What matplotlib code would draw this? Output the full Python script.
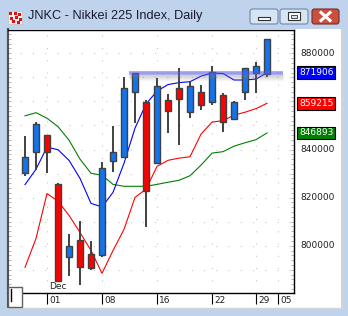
import matplotlib
matplotlib.use("Agg")
import matplotlib.pyplot as plt
from matplotlib.patches import Rectangle, FancyBboxPatch
from matplotlib.transforms import offset_copy

# ---- data ----
dates = ["Nov27", "Nov28", "Dec01", "Dec02", "Dec03", "Dec04", "Dec05", "Dec08",
         "Dec09", "Dec10", "Dec11", "Dec12", "Dec16", "Dec17", "Dec18", "Dec19",
         "Dec20", "Dec22", "Dec24", "Dec25", "Dec26", "Dec29", "Dec30"]
opens = [830400, 839000, 846000, 825800, 795300, 802200, 796700, 796000,
         835300, 836900, 863800, 859700, 834200, 860500, 865400, 855700,
         863900, 859600, 862600, 852500, 863800, 871900, 871400]
highs = [845500, 851400, 846200, 826000, 804700, 810100, 801800, 834800,
         849700, 870000, 872000, 860500, 869600, 863000, 874000, 868500,
         866800, 874800, 863300, 860000, 874000, 876300, 886000]
lows = [829000, 831400, 830100, 785200, 787600, 783500, 790000, 795300,
        830700, 836500, 851100, 807800, 833900, 846700, 841800, 852900,
        856600, 858500, 847100, 852300, 860500, 863300, 870000]
closes = [836700, 850800, 839000, 785300, 799700, 791100, 790700, 832100,
          838800, 865400, 871700, 822800, 866300, 856100, 860800, 866300,
          858300, 872100, 851300, 859700, 873800, 874700, 885800]

band_mid = [825400, 831800, 841000, 839900, 835500, 828000, 817600, 816100,
            822200, 834300, 848900, 858900, 864300, 867000, 867800, 868200,
            870500, 871800, 871600, 868900, 868900, 869300, 871906]
band_red = [791000, 803000, 821700, 818500, 812600, 805500, 798000, 788500,
            798000, 806800, 820100, 823500, 833000, 835500, 836400, 837000,
            846400, 851400, 852000, 854300, 855500, 857000, 859215]
band_green = [854000, 855300, 853000, 849500, 843900, 836000, 830100, 829300,
              825500, 824700, 824700, 824700, 825500, 826400, 827200, 829100,
              833500, 838500, 839100, 841400, 842800, 844100, 846893]

tick_idx = [2, 7, 12, 17, 21, 23]
tick_labels = ["01", "08", "16", "22", "29", "05"]
price_labels = [880000, 840000, 820000, 800000]
hline_level = 871700
hline_from, hline_to = 9.45, 23.45

title = "JNKC - Nikkei 225 Index, Daily"

up_color = "#1274ec"
down_color = "#ff0000"

fig = plt.figure(figsize=(3.48, 3.16), dpi=100)
fig.patch.set_facecolor("#bfd4ec")

# window chrome (pixel coordinates)
bg = fig.add_axes([0, 0, 1, 1])
bg.set_xlim(0, 348)
bg.set_ylim(316, 0)
bg.axis("off")
bg.add_patch(Rectangle((7, 29), 334, 279, facecolor="white", edgecolor="none"))
bg.plot([7.5, 7.5], [29, 308], color="#505050", lw=1.5)
bg.plot([7, 341], [307.5, 307.5], color="#d4d4d4", lw=1)
bg.plot([341.5, 341.5], [29, 308], color="#d4d4d4", lw=1)

# icon
bg.add_patch(Rectangle((8, 11), 14, 13, facecolor="#f0f0f0", edgecolor="#c0c0c0", lw=0.5))
for (px, py) in [(9, 12), (14, 12), (18, 13), (10, 17), (15, 16), (19, 18), (12, 20), (17, 21)]:
    bg.add_patch(Rectangle((px, py), 3, 3, facecolor="#e01010", edgecolor="none"))
bg.text(28, 16.5, title, fontsize=9.2, family="Liberation Sans", color="#1a1a2e",
        va="center", ha="left")

# title buttons
for x0, x1, fc, ec in [(250, 278, "#d7e4f3", "#6d87aa"), (280, 308, "#d7e4f3", "#6d87aa"),
                       (312, 339, "#c9503f", "#7a2b22")]:
    bg.add_patch(FancyBboxPatch((x0, 9), x1 - x0, 15, boxstyle="round,pad=0,rounding_size=2.5",
                                facecolor=fc, edgecolor=ec, lw=0.8))
bg.add_patch(Rectangle((258, 17), 12, 3, facecolor="white", edgecolor="#303030", lw=0.8))
bg.add_patch(Rectangle((288, 12), 12, 8, facecolor="white", edgecolor="#303030", lw=0.8))
bg.add_patch(Rectangle((291, 14.5), 6, 3, facecolor="#d7e4f3", edgecolor="#303030", lw=0.6))
bg.plot([321, 330], [12.5, 20.5], color="white", lw=2.2)
bg.plot([321, 330], [20.5, 12.5], color="white", lw=2.2)

# chart
ax = fig.add_axes([8 / 348, (316 - 293) / 316, (294 - 8) / 348, (293 - 30) / 316])
ax.set_facecolor("white")
ax.set_xlim(-1.545, 24.45)
ax.set_ylim(780333, 889688)

x = list(range(len(dates)))

# dotted grid
for v in range(790000, 890000, 10000):
    ax.axhline(v, color="#c8c8c8", lw=0.8, ls=(0, (1, 10)), zorder=0)
for i in tick_idx:
    ax.axvline(i, color="#c8c8c8", lw=0.8, ls=(0, (1, 10)), zorder=0)

# bands
ax.plot(x, band_green, color="#008000", lw=0.8, zorder=2)
ax.plot(x, band_red, color="#ff0000", lw=0.8, zorder=2)
ax.plot(x, band_mid, color="#0000ff", lw=0.8, zorder=2)

# candles
colors = [up_color if c >= o else down_color for o, c in zip(opens, closes)]
ax.vlines(x, lows, highs, color="#404040", lw=1.4, zorder=3)
bottoms = [min(o, c) for o, c in zip(opens, closes)]
heights = [max(abs(c - o), 300) for o, c in zip(opens, closes)]
ax.bar(x, heights, bottom=bottoms, width=0.52, color=colors, edgecolor="#404040",
       lw=1.0, zorder=4)

# drawn horizontal line with shadow
for k, a in [(2, 0.30), (3, 0.25), (4, 0.2), (5, 0.14), (6, 0.09), (7, 0.05)]:
    tr = offset_copy(ax.transData, fig=fig, x=0, y=-k, units="dots")
    ax.plot([hline_from, hline_to], [hline_level, hline_level], color="#808080",
            alpha=a, lw=1, transform=tr, zorder=5, solid_capstyle="butt")
ax.plot([hline_from, hline_to], [hline_level, hline_level], color="#5a5ae6",
        alpha=0.6, lw=2.6, zorder=6, solid_capstyle="butt")

# spines / ticks
for s in ["top", "right", "bottom"]:
    ax.spines[s].set_color("black")
    ax.spines[s].set_linewidth(1.0)
ax.spines["left"].set_color("#505050")
ax.spines["left"].set_linewidth(1.5)
ax.set_xticks(tick_idx)
ax.set_xticklabels([])
ax.tick_params(axis="x", direction="out", length=8, width=0.8, color="black")
ax.set_yticks(range(782000, 890000, 2000))
ax.set_yticklabels([])
ax.tick_params(axis="y", direction="in", length=2, width=0.6, color="#a8a8a8",
               left=True, right=True)

for i, lab in zip(tick_idx, tick_labels):
    ax.annotate(lab, xy=(i, 0), xycoords=("data", "axes fraction"), xytext=(2, -3),
                textcoords="offset pixels", ha="left", va="top", fontsize=6.5,
                color="#202020")
ax.annotate("Dec", xy=(tick_idx[0], 0), xycoords=("data", "axes fraction"),
            xytext=(2, 2), textcoords="offset pixels", ha="left", va="bottom",
            fontsize=6.5, color="#202020")

for v in price_labels:
    ax.annotate(str(v), xy=(1, v), xycoords=("axes fraction", "data"), xytext=(6, 0),
                textcoords="offset pixels", ha="left", va="center", fontsize=6.5,
                color="#202020")

for vals, c in [(band_mid, "#0000ff"), (band_red, "#ff0000"), (band_green, "#008000")]:
    ax.annotate(str(vals[-1]), xy=(1, vals[-1]), xycoords=("axes fraction", "data"),
                xytext=(5, 0), textcoords="offset pixels", ha="left", va="center",
                fontsize=6.5, color="white",
                bbox=dict(boxstyle="square,pad=0.2", fc=c, ec="black", lw=0.8),
                annotation_clip=False)

# little box bottom-left
fg = fig.add_axes([0, 0, 1, 1])
fg.set_xlim(0, 348)
fg.set_ylim(316, 0)
fg.axis("off")
fg.patch.set_alpha(0)
fg.add_patch(Rectangle((8, 287), 14, 20, facecolor="white", edgecolor="#606060", lw=1))
fg.plot([10.7, 10.7], [289, 301], color="black", lw=1)

fig.savefig("out.png", dpi=100, facecolor=fig.get_facecolor())
